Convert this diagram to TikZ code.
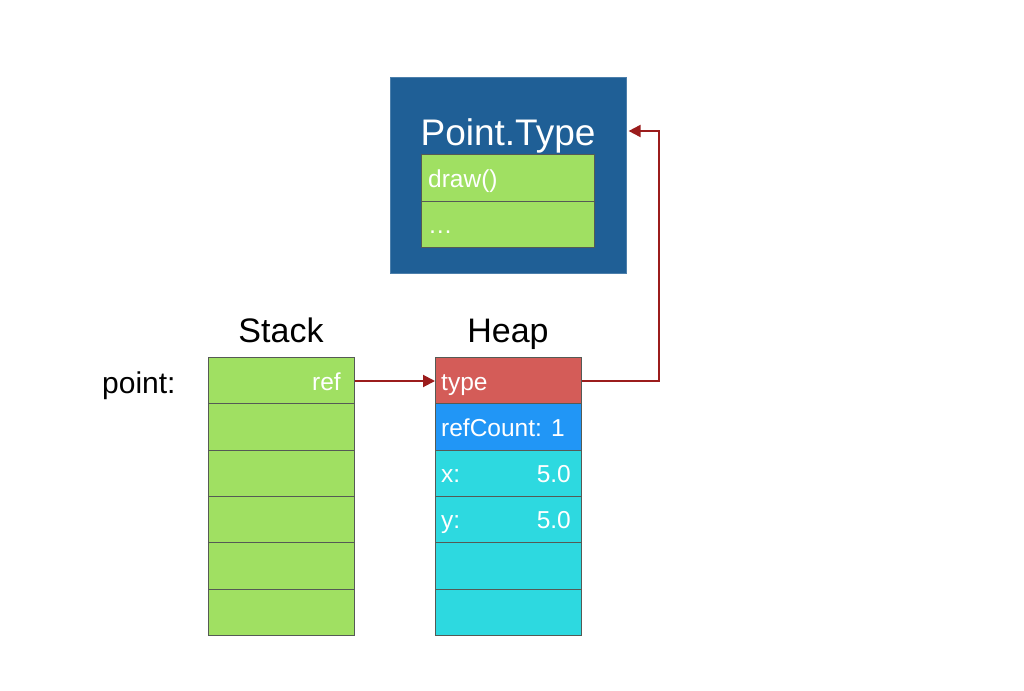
\documentclass[tikz,border=0pt]{standalone}
\usepackage{fontspec}
\setmainfont{Liberation Sans}
\usetikzlibrary{arrows.meta}
\definecolor{typeblue}{RGB}{31,95,150}
\definecolor{cellgreen}{RGB}{160,224,98}
\definecolor{cellred}{RGB}{212,92,88}
\definecolor{cellblue}{RGB}{33,150,246}
\definecolor{cellcyan}{RGB}{45,217,224}
\definecolor{arrowred}{RGB}{155,28,28}
\definecolor{edgegrey}{RGB}{85,90,85}
\tikzset{
  cell/.style={draw=edgegrey, line width=1.1pt, anchor=north west, minimum width=146pt, minimum height=46.33pt, inner sep=0pt},
  celltext/.style={text=white, font=\fontsize{24.5}{26}\selectfont, inner sep=0pt},
  title/.style={text=black, font=\fontsize{34}{36}\selectfont, inner sep=0pt, anchor=base},
  conn/.style={draw=arrowred, line width=2pt, -{Triangle[length=12pt,width=12pt]}},
}
\begin{document}
\begin{tikzpicture}[x=1pt,y=-1pt]
\useasboundingbox (0,0) rectangle (1024,690);
% type box
\node[fill=typeblue, draw=typeblue!80!white, line width=0.6pt, anchor=north west, minimum width=236pt, minimum height=196pt, inner sep=0pt] (typebox) at (390,77) {};
\node[text=white, font=\fontsize{37}{40}\selectfont, inner sep=0pt, anchor=base] (typetitle) at (508,145) {Point.Type};
\node[cell, fill=cellgreen, minimum width=173pt, minimum height=46.5pt] (m1) at (421,154) {};
\node[cell, fill=cellgreen, minimum width=173pt, minimum height=46.5pt] (m2) at (421,200.5) {};
\node[celltext, anchor=base west] (m1t) at (428,187) {draw()};
\node[celltext, anchor=base west] (m2t) at (428,233) {\dots};
% titles
\node[title] (stacktitle) at (281,342) {Stack};
\node[title] (heaptitle) at (508,342) {Heap};
\node[title, font=\fontsize{30}{32}\selectfont, anchor=base west] (pointlbl) at (102,393) {point:};
% stack
\foreach \i in {0,...,5} {
  \node[cell, fill=cellgreen] (s\i) at (208,357+46.33*\i) {};
}
\node[celltext, anchor=base east] (reft) at (341,390) {ref};
% heap
\node[cell, fill=cellred] (h0) at (435,357) {};
\node[cell, fill=cellblue] (h1) at (435,403.33) {};
\foreach \i in {2,...,5} {
  \node[cell, fill=cellcyan] (h\i) at (435,357+46.33*\i) {};
}
\node[celltext, anchor=base west] (typet) at (441,390) {type};
\node[celltext, anchor=base west] (rct) at (441,436) {refCount: 1};
\node[celltext, anchor=base west] (xt) at (441,482) {x:};
\node[celltext, anchor=base east] (xv) at (571,482) {5.0};
\node[celltext, anchor=base west] (yt) at (441,528) {y:};
\node[celltext, anchor=base east] (yv) at (571,528) {5.0};
% connectors
\coordinate (rowy) at (0,381);
\draw[conn] (s0.east |- rowy) -- (h0.west |- rowy);
\coordinate (bend) at (659,131);
\draw[conn] (h0.east |- rowy) -| (bend) -- ([xshift=2pt]typebox.east |- bend);
\end{tikzpicture}
\end{document}
